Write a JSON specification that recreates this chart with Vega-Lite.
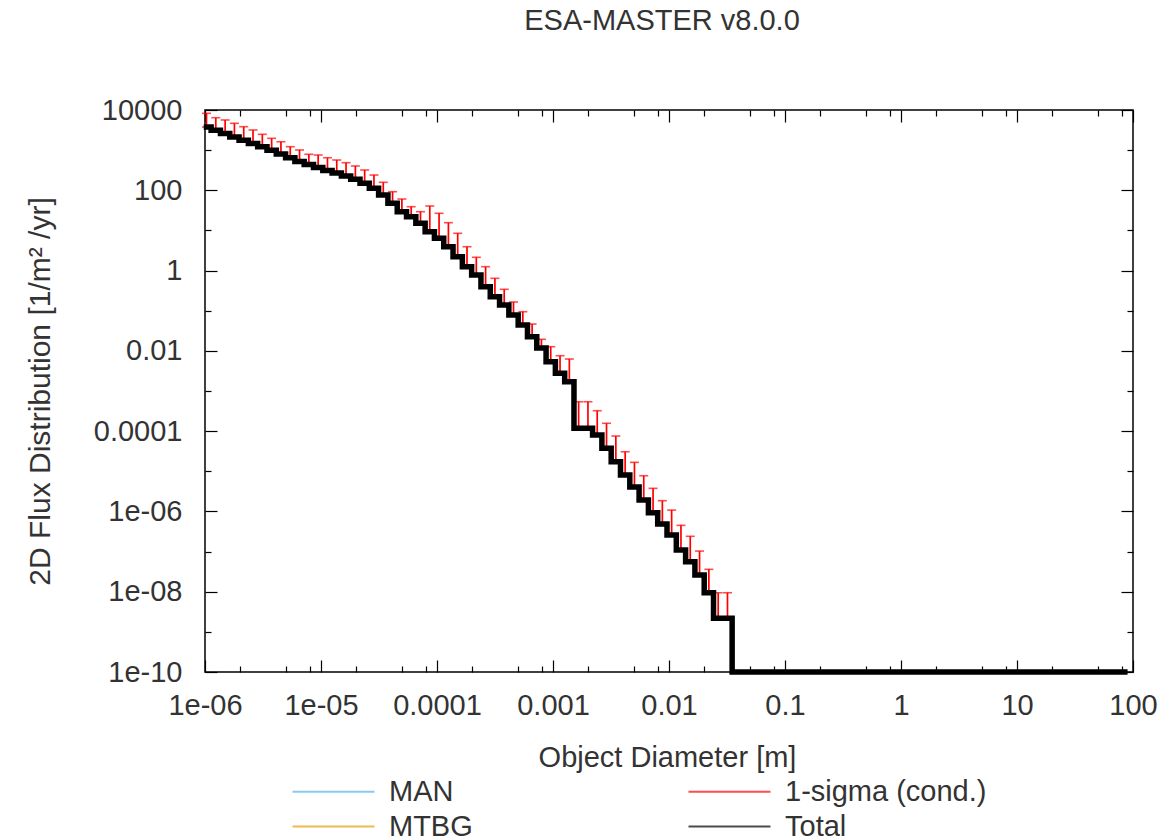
{
  "$schema": "https://vega.github.io/schema/vega-lite/v6.json",
  "width": 928,
  "height": 562,
  "autosize": {"type": "none"},
  "padding": {"left": 205, "top": 110, "right": 34, "bottom": 168},
  "background": "white",
  "config": {
    "view": {"stroke": "#000000", "strokeWidth": 1.5},
    "font": "Liberation Sans"
  },
  "title": {
    "text": "ESA-MASTER v8.0.0",
    "fontSize": 29,
    "fontWeight": "normal",
    "font": "Liberation Sans",
    "color": "#333333",
    "anchor": "middle",
    "offset": 60,
    "dx": -7
  },
  "datasets": {
    "flux": [
      {"d": 1.03e-6, "flux": 3770, "upper": 8280},
      {"d": 1.239e-6, "flux": 3120, "upper": 6430},
      {"d": 1.491e-6, "flux": 2580, "upper": 5640},
      {"d": 1.793e-6, "flux": 2140, "upper": 4660},
      {"d": 2.157e-6, "flux": 1770, "upper": 3840},
      {"d": 2.594e-6, "flux": 1460, "upper": 3180},
      {"d": 3.121e-6, "flux": 1210, "upper": 2480},
      {"d": 3.754e-6, "flux": 997, "upper": 1970},
      {"d": 4.515e-6, "flux": 806, "upper": 1620},
      {"d": 5.431e-6, "flux": 648, "upper": 1220},
      {"d": 6.531e-6, "flux": 521, "upper": 1010},
      {"d": 7.857e-6, "flux": 439, "upper": 788},
      {"d": 9.45e-6, "flux": 372, "upper": 757},
      {"d": 1.137e-5, "flux": 313, "upper": 648},
      {"d": 1.367e-5, "flux": 270, "upper": 568},
      {"d": 1.644e-5, "flux": 227, "upper": 487},
      {"d": 1.978e-5, "flux": 188, "upper": 403},
      {"d": 2.379e-5, "flux": 149, "upper": 320},
      {"d": 2.861e-5, "flux": 112, "upper": 240},
      {"d": 3.442e-5, "flux": 76.3, "upper": 158},
      {"d": 4.14e-5, "flux": 47.4, "upper": 92.2},
      {"d": 4.98e-5, "flux": 29.3, "upper": 60.6},
      {"d": 5.99e-5, "flux": 22.0, "upper": 39.0},
      {"d": 7.205e-5, "flux": 15.0, "upper": 29.3},
      {"d": 8.666e-5, "flux": 9.29, "upper": 40.6},
      {"d": 1.042e-4, "flux": 6.36, "upper": 26.7},
      {"d": 1.254e-4, "flux": 3.93, "upper": 15.6},
      {"d": 1.508e-4, "flux": 2.21, "upper": 8.48},
      {"d": 1.814e-4, "flux": 1.25, "upper": 3.93},
      {"d": 2.182e-4, "flux": 0.775, "upper": 2.14},
      {"d": 2.624e-4, "flux": 0.396, "upper": 1.25},
      {"d": 3.157e-4, "flux": 0.223, "upper": 0.641},
      {"d": 3.797e-4, "flux": 0.139, "upper": 0.341},
      {"d": 4.567e-4, "flux": 0.0782, "upper": 0.165},
      {"d": 5.493e-4, "flux": 0.044, "upper": 0.0944},
      {"d": 6.607e-4, "flux": 0.0225, "upper": 0.0466},
      {"d": 7.947e-4, "flux": 0.0118, "upper": 0.0194},
      {"d": 9.559e-4, "flux": 0.00536, "upper": 0.0127},
      {"d": 1.15e-3, "flux": 0.00276, "upper": 0.00757},
      {"d": 1.383e-3, "flux": 0.0017, "upper": 0.00626},
      {"d": 1.663e-3, "flux": 0.000118, "upper": 0.00054},
      {"d": 2.001e-3, "flux": 0.000118, "upper": 0.00054},
      {"d": 2.406e-3, "flux": 8.0e-5, "upper": 0.000323},
      {"d": 2.894e-3, "flux": 3.73e-5, "upper": 0.000157},
      {"d": 3.481e-3, "flux": 1.73e-5, "upper": 7.56e-5},
      {"d": 4.188e-3, "flux": 8.07e-6, "upper": 3.07e-5},
      {"d": 5.037e-3, "flux": 4.05e-6, "upper": 1.67e-5},
      {"d": 6.058e-3, "flux": 1.92e-6, "upper": 7.75e-6},
      {"d": 7.287e-3, "flux": 9.29e-7, "upper": 3.76e-6},
      {"d": 8.765e-3, "flux": 4.85e-7, "upper": 1.85e-6},
      {"d": 1.054e-2, "flux": 2.58e-7, "upper": 1.08e-6},
      {"d": 1.268e-2, "flux": 1.09e-7, "upper": 4.5e-7},
      {"d": 1.525e-2, "flux": 5.58e-8, "upper": 2.4e-7},
      {"d": 1.834e-2, "flux": 2.61e-8, "upper": 1.03e-7},
      {"d": 2.206e-2, "flux": 9.44e-9, "upper": 3.61e-8},
      {"d": 2.655e-2, "flux": 2.17e-9, "upper": 9.44e-9},
      {"d": 3.193e-2, "flux": 2.17e-9, "upper": 9.44e-9},
      {"d": 3.84e-2, "flux": 1e-10, "upper": null},
      {"d": 85, "flux": 1e-10, "upper": null}
    ]
  },
  "data": {"name": "flux"},
  "layer": [
    {
      "transform": [{"filter": "isValid(datum.upper)"}],
      "mark": {"type": "rule", "strokeWidth": 1.7},
      "encoding": {
        "x": {
          "field": "d", "type": "quantitative",
          "scale": {"type": "log", "domain": [1e-6, 100], "nice": false},
          "axis": {
            "orient": "top", "labels": false, "title": null, "domain": false, "grid": false,
            "values": [1e-6, 1e-5, 1e-4, 1e-3, 0.01, 0.1, 1, 10, 100],
            "tickColor": "#000000", "tickWidth": 1.2, "tickSize": -12
          }
        },
        "y": {
          "field": "flux", "type": "quantitative",
          "scale": {"type": "log", "domain": [1e-10, 10000], "nice": false},
          "axis": {
            "orient": "right", "labels": false, "title": null, "domain": false, "grid": false,
            "values": [1e-10, 1e-8, 1e-6, 1e-4, 0.01, 1, 100, 10000],
            "tickColor": "#000000", "tickWidth": 1.2, "tickSize": -12
          }
        },
        "y2": {"field": "upper"},
        "color": {
          "datum": "1-sigma (cond.)", "type": "nominal",
          "scale": {"domain": ["MAN", "MTBG", "1-sigma (cond.)", "Total"], "range": ["#56b4e9", "#e69f00", "#ff0000", "#000000"]},
          "legend": {
            "orient": "none", "legendX": 114, "legendY": 667, "columns": 2, "columnPadding": 211, "rowPadding": 5,
            "title": null, "padding": 0,
            "labelFontSize": 29, "labelColor": "#333333", "labelFont": "Liberation Sans", "labelLimit": 400,
            "symbolSize": 100, "labelOffset": 41, "symbolType": "M-8.2,0H8.2", "symbolStrokeWidth": 2.2
          }
        }
      }
    },
    {
      "transform": [{"filter": "isValid(datum.upper)"}],
      "mark": {"type": "tick", "orient": "horizontal", "size": 9, "thickness": 1.6},
      "encoding": {
        "x": {
          "field": "d", "type": "quantitative", "scale": {"type": "log", "domain": [1e-6, 100], "nice": false},
          "axis": {
            "orient": "top", "labels": false, "title": null, "domain": false, "grid": false,
            "values": [2e-6, 5e-6, 8e-6, 2e-5, 5e-5, 8e-5, 2e-4, 5e-4, 8e-4, 2e-3, 5e-3, 8e-3, 0.02, 0.05, 0.08, 0.2, 0.5, 0.8, 2, 5, 8, 20, 50, 80],
            "tickColor": "#000000", "tickWidth": 1.2, "tickSize": -6
          }
        },
        "y": {
          "field": "upper", "type": "quantitative", "scale": {"type": "log", "domain": [1e-10, 10000], "nice": false},
          "axis": {
            "orient": "right", "labels": false, "title": null, "domain": false, "grid": false,
            "values": [1e-9, 1e-7, 1e-5, 1e-3, 0.1, 10, 1000],
            "tickColor": "#000000", "tickWidth": 1.2, "tickSize": -6
          }
        },
        "color": {"datum": "1-sigma (cond.)", "type": "nominal"}
      }
    },
    {
      "transform": [{"filter": "isValid(datum.upper)"}],
      "mark": {"type": "tick", "orient": "horizontal", "size": 9, "thickness": 1.6},
      "encoding": {
        "x": {
          "field": "d", "type": "quantitative", "scale": {"type": "log", "domain": [1e-6, 100], "nice": false},
          "axis": {
            "orient": "bottom", "labels": false, "title": null, "domain": false, "grid": false,
            "values": [2e-6, 5e-6, 8e-6, 2e-5, 5e-5, 8e-5, 2e-4, 5e-4, 8e-4, 2e-3, 5e-3, 8e-3, 0.02, 0.05, 0.08, 0.2, 0.5, 0.8, 2, 5, 8, 20, 50, 80],
            "tickColor": "#000000", "tickWidth": 1.2, "tickSize": -6
          }
        },
        "y": {
          "field": "flux", "type": "quantitative", "scale": {"type": "log", "domain": [1e-10, 10000], "nice": false},
          "axis": {
            "orient": "left", "labels": false, "title": null, "domain": false, "grid": false,
            "values": [1e-9, 1e-7, 1e-5, 1e-3, 0.1, 10, 1000],
            "tickColor": "#000000", "tickWidth": 1.2, "tickSize": -6
          }
        },
        "color": {"datum": "1-sigma (cond.)", "type": "nominal"}
      }
    },
    {
      "mark": {"type": "line", "interpolate": "step", "strokeWidth": 5.5, "strokeCap": "square"},
      "encoding": {
        "x": {
          "field": "d", "type": "quantitative",
          "scale": {"type": "log", "domain": [1e-6, 100], "nice": false},
          "axis": {
            "orient": "bottom", "domain": false, "grid": false,
            "values": [1e-6, 1e-5, 1e-4, 1e-3, 0.01, 0.1, 1, 10, 100],
            "labelExpr": "round(log(datum.value)/LN10) < -4 ? '1e-0' + (-round(log(datum.value)/LN10)) : format(datum.value, '')",
            "tickColor": "#000000", "tickWidth": 1.2, "tickSize": -12,
            "labelFontSize": 29, "labelColor": "#333333", "labelFont": "Liberation Sans", "labelPadding": 31,
            "labelFlush": false, "labelOverlap": false,
            "title": "Object Diameter [m]", "titleFontSize": 29, "titleFontWeight": "normal", "titleColor": "#333333", "titleFont": "Liberation Sans",
            "titleX": 462, "titleY": 85, "titleBaseline": "middle", "titleAlign": "center"
          }
        },
        "y": {
          "field": "flux", "type": "quantitative",
          "scale": {"type": "log", "domain": [1e-10, 10000], "nice": false},
          "axis": {
            "orient": "left", "domain": false, "grid": false,
            "values": [1e-10, 1e-8, 1e-6, 1e-4, 0.01, 1, 100, 10000],
            "labelExpr": "round(log(datum.value)/LN10) < -4 ? (round(log(datum.value)/LN10) > -10 ? '1e-0' + (-round(log(datum.value)/LN10)) : '1e' + round(log(datum.value)/LN10)) : format(datum.value, '')",
            "tickColor": "#000000", "tickWidth": 1.2, "tickSize": -12,
            "labelFontSize": 29, "labelColor": "#333333", "labelFont": "Liberation Sans", "labelPadding": 35,
            "labelFlush": false, "labelOverlap": false,
            "title": "2D Flux Distribution [1/m² /yr]", "titleFontSize": 30, "titleFontWeight": "normal", "titleColor": "#333333", "titleFont": "Liberation Sans",
            "titleX": -165, "titleY": 281, "titleBaseline": "middle", "titleAlign": "center", "titleAngle": -90
          }
        },
        "color": {"datum": "Total", "type": "nominal"}
      }
    }
  ],
  "resolve": {"axis": {"x": "independent", "y": "independent"}}
}
